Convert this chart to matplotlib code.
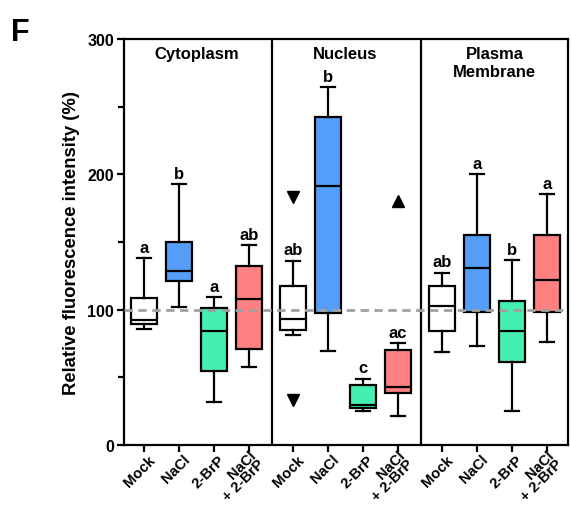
import numpy as np
import matplotlib
matplotlib.use("Agg")
import matplotlib.pyplot as plt
from matplotlib.transforms import ScaledTranslation

plt.rcParams['font.family'] = ['Liberation Sans', 'DejaVu Sans']
plt.rcParams['font.weight'] = 'bold'

# box stats: whislo, q1, med, q3, whishi
treatments = ['Mock', 'NaCl', '2-BrP', 'NaCl\n+ 2-BrP']
compartments = ['Cytoplasm', 'Nucleus', 'Plasma\nMembrane']
colors = ['#ffffff', '#559ef8', '#44f0b0', '#ff8080']

cyto = [[85.7, 89.4, 92.4, 108.9, 137.9],
        [101.7, 121.4, 128.3, 149.8, 192.6],
        [31.8, 54.9, 84.0, 101.0, 109.1],
        [57.9, 70.7, 108.1, 132.0, 147.5]]
nucleus = [[81.3, 85.2, 92.9, 117.5, 136.2],
           [69.7, 97.3, 191.6, 242.1, 264.3],
           [24.9, 27.1, 29.6, 44.1, 49.0],
           [21.4, 38.4, 42.9, 70.2, 75.1]]
membrane = [[68.7, 84.0, 102.7, 117.5, 127.3],
            [73.2, 98.3, 131.0, 155.4, 200.2],
            [24.9, 61.6, 84.2, 106.7, 136.7],
            [76.4, 98.3, 122.2, 154.9, 185.2]]
letters = [['a', 'b', 'a', 'ab'],
           ['ab', 'b', 'c', 'ac'],
           ['ab', 'a', 'b', 'a']]

# outlier markers in the nucleus panel
down_vals = [183.5, 33.3]   # Mock
up_vals = [180.5]           # NaCl + 2-BrP

data = [cyto, nucleus, membrane]

fig = plt.figure(figsize=(5.71, 5.06), dpi=100)
ax = fig.add_axes([0.217, 0.1186, 0.778, 0.8024])

gap = 4.25
lw = 1.6
positions = []
labels = []
for g, group in enumerate(data):
    stats = []
    pos = []
    for i, s in enumerate(group):
        stats.append(dict(whislo=s[0], q1=s[1], med=s[2], q3=s[3], whishi=s[4], fliers=[]))
        pos.append(g * gap + i)
    bp = ax.bxp(stats, positions=pos, widths=0.75, patch_artist=True, showfliers=False,
                boxprops=dict(linewidth=lw, edgecolor='black'),
                medianprops=dict(color='black', linewidth=lw),
                whiskerprops=dict(color='black', linewidth=lw),
                capprops=dict(color='black', linewidth=lw),
                capwidths=0.4)
    for patch, c in zip(bp['boxes'], colors):
        patch.set_facecolor(c)
    for i, s in enumerate(group):
        ax.text(pos[i], s[4] + 2.5, letters[g][i], ha='center', va='bottom',
                fontsize=12, fontweight='bold')
    ax.text(g * gap + 1.5, 295, compartments[g], ha='center', va='top',
            fontsize=12, fontweight='bold', linespacing=1.25)
    positions += pos
    labels += treatments

ax.plot([gap] * len(down_vals), down_vals, 'v', color='black', markersize=9)
ax.plot([gap + 3] * len(up_vals), up_vals, '^', color='black', markersize=9)

ax.axhline(100, color='#a0a0a0', linestyle=(0, (3, 2)), linewidth=2, zorder=5)
for xd in [3.65, 3.65 + gap]:
    ax.axvline(xd, color='black', linewidth=lw)

ax.set_xlim(-0.57, 12.1)
ax.set_ylim(0, 300)
ax.set_yticks([0, 100, 200, 300])
ax.set_yticks([50, 150, 250], minor=True)
ax.set_xticks(positions)
ax.tick_params(axis='both', which='both', direction='out', width=lw, color='black')
ax.tick_params(axis='both', which='major', length=5)
ax.tick_params(axis='y', which='major', labelsize=11.5, pad=2)
ax.tick_params(axis='x', which='major', pad=3.6)
ax.tick_params(axis='y', which='minor', length=4)
ax.set_xticklabels(labels, rotation=45, ha='right', va='center', rotation_mode='anchor',
                   fontsize=10.6, fontweight='bold', linespacing=0.85)
shift = ScaledTranslation(6.5 / 72, 0, fig.dpi_scale_trans)
for lab in ax.get_xticklabels():
    lab.set_transform(lab.get_transform() + shift)
for lab in ax.get_yticklabels():
    lab.set_fontweight('bold')
for sp in ax.spines.values():
    sp.set_linewidth(lw)
ax.set_ylabel('Relative fluorescence intensity (%)', fontsize=13.3, fontweight='bold',
              labelpad=5)

fig.text(0.02, 0.965, 'F', fontsize=22, fontweight='bold', va='top')

fig.savefig('out.png', dpi=100)
